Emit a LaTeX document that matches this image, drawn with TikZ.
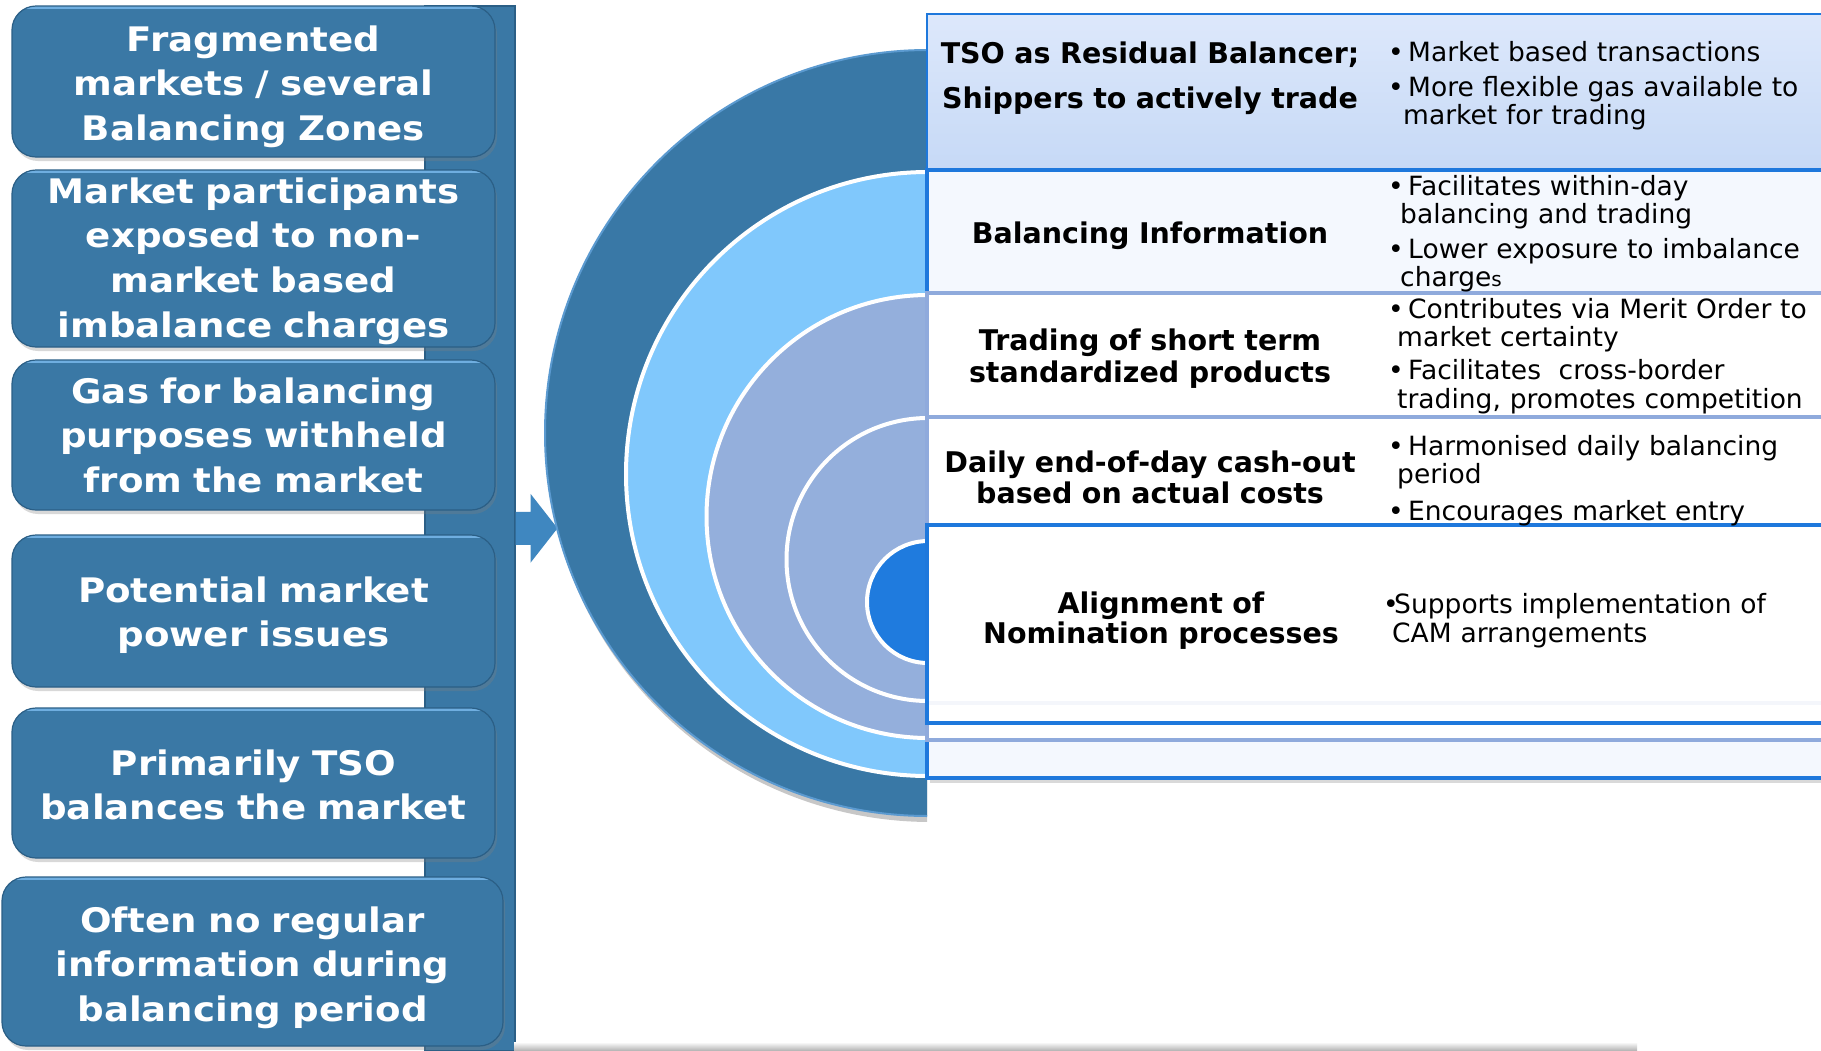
\documentclass[tikz,border=0pt]{standalone}
\usepackage{fontspec}
\setmainfont{DejaVu Sans}
\newfontfamily\boxfont[FakeStretch=1.1]{DejaVu Sans Bold}
\usetikzlibrary{shadows}
\definecolor{boxblue}{HTML}{3A78A5}
\definecolor{boxedge}{HTML}{2B5F86}
\definecolor{boxhi}{HTML}{6FAEE0}
\definecolor{arrowblue}{HTML}{3F87C0}
\definecolor{darkdisk}{HTML}{3978A6}
\definecolor{rim}{HTML}{5B9AD0}
\definecolor{lightdisk}{HTML}{80C8FC}
\definecolor{lavdisk}{HTML}{94AFDC}
\definecolor{deepdisk}{HTML}{1F7BDE}
\definecolor{tblblue}{HTML}{1E78DC}
\definecolor{lav}{HTML}{8FAADC}
\definecolor{rowtop}{HTML}{DDE8FB}
\definecolor{rowbot}{HTML}{C6D9F6}
\definecolor{paleblue}{HTML}{F4F8FE}
\newcommand\mybul{\makebox[20pt][l]{•}}
\begin{document}
\begin{tikzpicture}[x=1pt,y=-1pt,
  leftbox/.style={draw=boxedge, line width=1.2pt, fill=boxblue, rounded corners=24pt,
    inner sep=0pt, drop shadow={shadow xshift=2pt, shadow yshift=-4pt, opacity=0.3},
    path picture={\draw[boxhi, line width=5pt] (path picture bounding box.north west) -- (path picture bounding box.north east);}},
  boxtext/.style={text=white, font=\boxfont\fontsize{33.8}{44.8}\selectfont, align=center,
    text width=490pt, anchor=base, inner sep=0pt},
  hdr/.style={font=\bfseries\fontsize{28.5}{#1}\selectfont, align=center, text width=470pt,
    anchor=base, inner sep=0pt},
  hdr/.default=45,
  bul/.style={font=\fontsize{26.5}{#1}\selectfont, align=left, text width=440pt,
    anchor=base west, inner sep=0pt},
  bul/.default=28,
  whiteedge/.style={draw=white, line width=4pt}
]
\useasboundingbox (0,0) rectangle (1821,1050);
\fill[white] (0,0) rectangle (1821,1050);

% vertical bar and arrow
\node[fill=boxblue, draw=boxedge, line width=1.5pt, minimum width=90pt, minimum height=1045pt,
  inner sep=0pt, anchor=north west] (bar) at (424,5) {};
\fill[arrowblue] (bar.east) ++(0,-16.5) -- ++(15,0) -- ++(0,-18) -- ++(27,34.5)
  -- ++(-27,34.5) -- ++(0,-18) -- ++(-15,0) -- cycle;

% left boxes
\node[leftbox, minimum width=483pt, minimum height=151pt] (b1) at (253.5,81.5) {};
\node[leftbox, minimum width=483pt, minimum height=177pt] (b2) at (253.5,258.5) {};
\node[leftbox, minimum width=483pt, minimum height=150pt] (b3) at (253.5,435) {};
\node[leftbox, minimum width=483pt, minimum height=152pt] (b4) at (253.5,611) {};
\node[leftbox, minimum width=483pt, minimum height=150pt] (b5) at (253.5,783) {};
\node[leftbox, minimum width=501pt, minimum height=169pt] (b6) at (252.5,961.5) {};

\node[boxtext] (t1) at (253.5,51) {Fragmented\\markets / several\\Balancing Zones};
\node[boxtext] (t2) at (253.5,203) {Market participants\\exposed to non-\\market based\\imbalance charges};
\node[boxtext] (t3) at (253.5,403) {Gas for balancing\\purposes withheld\\from the market};
\node[boxtext] (t4) at (253.5,602) {Potential market\\power issues};
\node[boxtext] (t5) at (253.5,775) {Primarily TSO\\balances the market};
\node[boxtext] (t6) at (252.5,932) {Often no regular\\information during\\balancing period};

% half disks
\begin{scope}
\clip (0,0) rectangle (927,1050);
\fill[black, opacity=0.22] (931,437) circle[radius=385pt];
\filldraw[fill=darkdisk, draw=rim, line width=2pt] (928,433) circle[radius=383pt];
\filldraw[fill=lightdisk, whiteedge] (928,474) circle[radius=302pt];
\filldraw[fill=lavdisk, whiteedge] (928,516.5) circle[radius=221.5pt];
\filldraw[fill=lavdisk, whiteedge] (928,559.5) circle[radius=141.5pt];
\filldraw[fill=deepdisk, whiteedge] (928,602) circle[radius=61pt];
\end{scope}

% table
\fill[black, opacity=0.15] (930,173) rectangle (1830,783);
\draw[line width=2pt, draw=tblblue, top color=rowtop, bottom color=rowbot] (927,14) rectangle (1830,170);
\filldraw[fill=paleblue, draw=tblblue, line width=4.5pt] (927,170) rectangle (1830,778);
\filldraw[fill=white, draw=lav, line width=4pt] (927,293) rectangle (1830,740);
\filldraw[fill=white, draw=lav, line width=4pt] (927,417) rectangle (1830,703);
\filldraw[fill=white, fill opacity=0.9, draw=tblblue, line width=4.5pt] (927,525) rectangle (1830,723);

% headers
\node[hdr] (h1) at (1150,63) {TSO as Residual Balancer;\\Shippers to actively trade};
\node[hdr] (h2) at (1150,243) {Balancing Information};
\node[hdr=32] (h3) at (1150,350) {Trading of short term\\standardized products};
\node[hdr=31] (h4) at (1150,472) {Daily end-of-day cash-out\\based on actual costs};
\node[hdr=30] (h5) at (1161,613) {Alignment of\\Nomination processes};

% bullets
\node[bul] (p1) at (1388,61) {\mybul Market based transactions\\[7pt]\mybul More flexible gas available to\\\hspace*{15pt}market for trading};
\node[bul] (p2) at (1388,195) {\mybul Facilitates within-day\\\hspace*{12pt}balancing and trading\\[7pt]\mybul Lower exposure to imbalance\\\hspace*{12pt}charge{\fontsize{20}{20}\selectfont s}};
\node[bul=28.5] (p3) at (1388,318) {\mybul Contributes via Merit Order to\\\hspace*{9pt}market certainty\\[4.5pt]\mybul Facilitates\ \ cross-border\\\hspace*{9pt}trading, promotes competition};
\node[bul] (p4) at (1388,455) {\mybul Harmonised daily balancing\\\hspace*{9pt}period\\[9pt]\mybul Encourages market entry};
\node[bul=29] (p5) at (1383,613) {\makebox[11pt][l]{•}Supports implementation of\\\hspace*{9pt}CAM arrangements};

% bottom shadow strip
\shade[top color=white, bottom color=black!28] (514,1042) rectangle (1637,1050);
\end{tikzpicture}
\end{document}
